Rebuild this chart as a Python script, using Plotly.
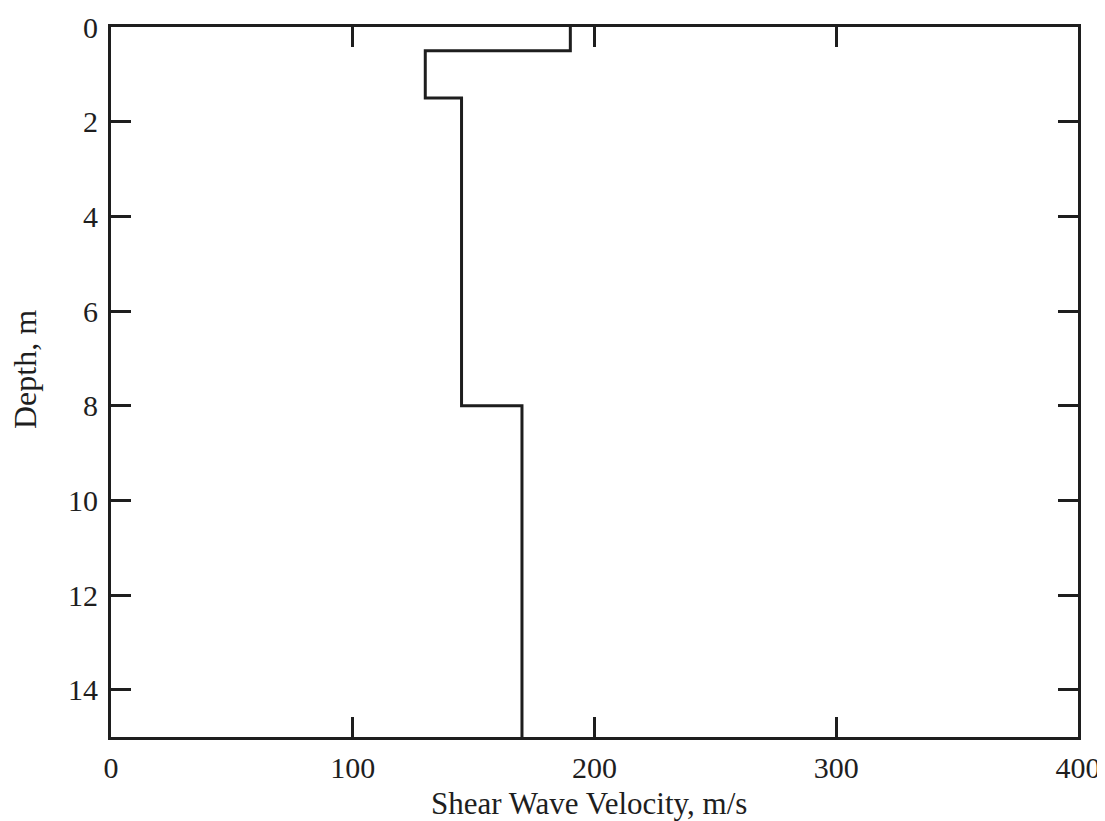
import plotly.graph_objects as go

# Layer data: shear wave velocity profile
layer_top = [0, 0.5, 1.5, 8]
layer_bottom = [0.5, 1.5, 8, 15]
velocity = [190, 130, 145, 170]

x_ticks = [0, 100, 200, 300, 400]
y_ticks = [0, 2, 4, 6, 8, 10, 12, 14]
x_title = "Shear Wave Velocity, m/s"
y_title = "Depth, m"

xs, ys = [], []
for v, t, b in zip(velocity, layer_top, layer_bottom):
    xs += [v, v]
    ys += [t, b]

ink = "#1e1e1e"
font = "Liberation Serif"

fig = go.Figure()
fig.add_trace(go.Scatter(x=xs, y=ys, mode="lines",
                         line=dict(color=ink, width=3), showlegend=False))

common = dict(showgrid=False, zeroline=False, showline=True, linecolor=ink,
              linewidth=3, ticks="inside", ticklen=20, tickwidth=3, tickcolor=ink,
              automargin=False, ticklabeloverflow="allow",
              tickfont=dict(family=font, size=30, color=ink))

fig.update_layout(
    width=1105, height=821,
    paper_bgcolor="white", plot_bgcolor="white",
    margin=dict(l=103, r=35, t=19, b=92),
    xaxis=dict(range=[0, 400], tickvals=x_ticks, ticktext=[str(t) for t in x_ticks],
               mirror="allticks", ticklabelstandoff=2, **common),
    yaxis=dict(range=[15, 0], tickvals=y_ticks, ticktext=[str(t) for t in y_ticks],
               mirror="allticks", ticklabelstandoff=4, **common),
    annotations=[
        dict(text=x_title, xref="paper", yref="paper", x=0.5, y=0,
             xanchor="center", yanchor="middle", yshift=-66, xshift=-6,
             showarrow=False, borderpad=0,
             font=dict(family=font, size=31, color=ink)),
        dict(text=y_title, xref="paper", yref="paper", x=0, y=0.5,
             xanchor="center", yanchor="middle", xshift=-86, yshift=12,
             textangle=-90, showarrow=False, borderpad=0,
             font=dict(family=font, size=32, color=ink)),
    ],
)

fig.write_html("out.html")
